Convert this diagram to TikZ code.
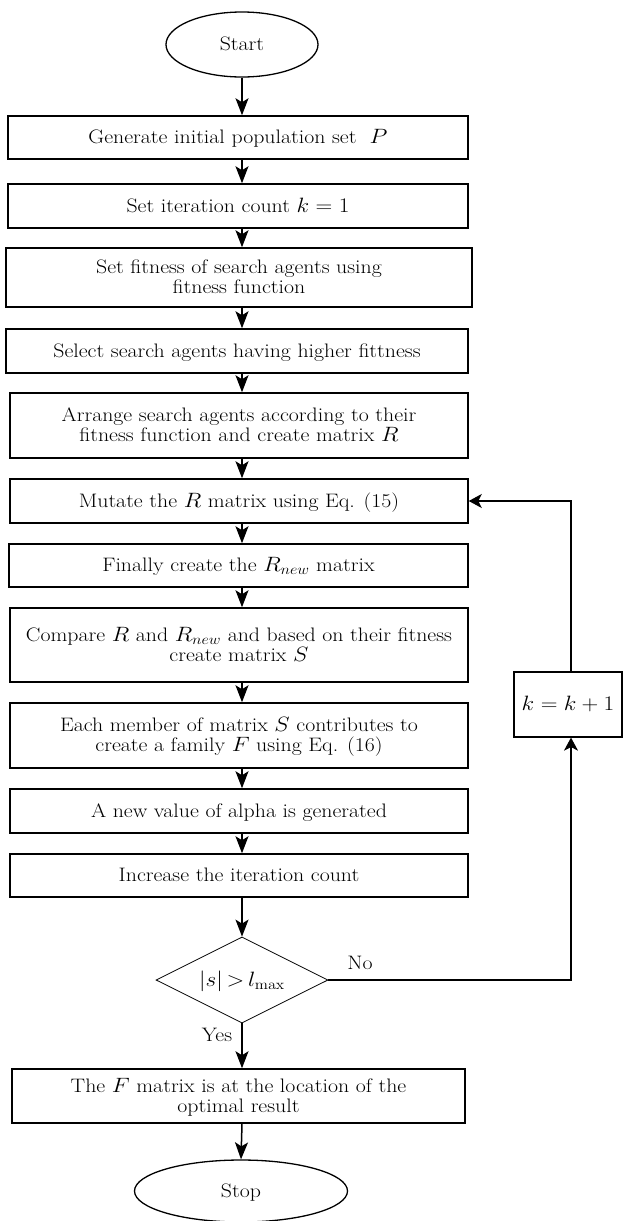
\documentclass[tikz,border=0pt]{standalone}
\usepackage{graphicx}
\usetikzlibrary{shapes.geometric,arrows.meta}
\newcommand{\stretchtxt}[1]{\raisebox{-2pt}[\height][\depth]{\scalebox{1.12}[1]{\begin{tabular}{@{}c@{}}#1\end{tabular}}}}
\begin{document}
\begin{tikzpicture}[x=1pt,y=-1pt,
  every node/.style={font=\fontsize{19.5}{20}\selectfont},
  box/.style={draw,line width=1.5pt,rectangle,align=center,inner sep=0pt,minimum width=460pt},
  term/.style={draw,line width=1.3pt,ellipse,inner sep=0pt},
  decision/.style={draw,line width=0.8pt,diamond,aspect=2,inner sep=0pt,minimum width=172pt,minimum height=86pt},
  flow/.style={line width=1.5pt,-{Stealth[length=17pt,width=13pt,inset=4pt]}},
  back/.style={line width=1.1pt,-{Stealth[length=13pt,width=14pt,inset=3.5pt]}},
  lbl/.style={inner sep=0pt}]
\useasboundingbox (0,0) rectangle (624,1221);
\fill[white] (0,0) rectangle (624,1221);

\node[term,minimum width=152pt,minimum height=65pt] (st) at (242,44.5) {\stretchtxt{Start}};
\node[box,minimum height=43pt] (b1) at (238,137.5) {\stretchtxt{Generate initial population set \ $P$}};
\node[box,minimum height=44pt] (b2) at (238,206) {\stretchtxt{Set iteration count $k=1$}};
\node[box,minimum height=59pt,minimum width=466pt] (b3) at (239,277.5) {\stretchtxt{Set fitness of search agents using\\fitness function}};
\node[box,minimum height=44pt,minimum width=462pt] (b4) at (237,351) {\stretchtxt{Select search agents having higher fittness}};
\node[box,minimum height=65pt,minimum width=458pt] (b5) at (239,425.5) {\stretchtxt{Arrange search agents according to their\\fitness function and create matrix $R$}};
\node[box,minimum height=44pt,minimum width=458pt] (b6) at (239,501) {\stretchtxt{Mutate the $R$ matrix using Eq. (15)}};
\node[box,minimum height=43pt,minimum width=459pt] (b7) at (238.5,565.5) {\stretchtxt{Finally create the $R_{new}$ matrix}};
\node[box,minimum height=74pt,minimum width=458pt] (b8) at (239,645) {\stretchtxt{Compare $R$ and $R_{new}$ and based on their fitness\\create matrix $S$}};
\node[box,minimum height=65pt,minimum width=458pt] (b9) at (239,735.5) {\stretchtxt{Each member of matrix $S$ contributes to\\create a family $F$ using Eq. (16)}};
\node[box,minimum height=44pt,minimum width=458pt] (b10) at (239,811) {\stretchtxt{A new value of alpha is generated}};
\node[box,minimum height=43pt,minimum width=458pt] (b11) at (239,875.5) {\stretchtxt{Increase the iteration count}};
\node[decision] (dia) at (242,980) {\stretchtxt{$|s|\,{>}\,l_{\max}$}};
\node[box,minimum height=54pt,minimum width=453pt] (fin) at (238.5,1096) {\stretchtxt{The $F$ matrix is at the location of the\\optimal result}};
\node[term,minimum width=213pt,minimum height=62pt] (sp) at (241,1191) {\stretchtxt{Stop}};
\node[draw,line width=1.2pt,rectangle,inner sep=0pt,minimum width=108pt,minimum height=65pt] (kb) at (568,704.5) {\stretchtxt{$k=k+1$}};
\node[lbl] (no) at (360,963) {\stretchtxt{No}};
\node[lbl] (yes) at (217,1035) {\stretchtxt{Yes}};
\coordinate (lx) at (571,0);

\draw[flow] (st.south) -- (b1.north -| st);
\draw[flow] (b1.south -| st) -- (b2.north -| st);
\draw[flow] (b2.south -| st) -- (b3.north -| st);
\draw[flow] (b3.south -| st) -- (b4.north -| st);
\draw[flow] (b4.south -| st) -- (b5.north -| st);
\draw[flow] (b5.south -| st) -- (b6.north -| st);
\draw[flow] (b6.south -| st) -- (b7.north -| st);
\draw[flow] (b7.south -| st) -- (b8.north -| st);
\draw[flow] (b8.south -| st) -- (b9.north -| st);
\draw[flow] (b9.south -| st) -- (b10.north -| st);
\draw[flow] (b10.south -| st) -- (b11.north -| st);
\draw[flow] (b11.south -| st) -- (dia.north);
\draw[flow] (dia.south) -- (fin.north -| st);
\draw[flow] (fin.south -| st) -- (sp.north);
\draw[back] (dia.east) -- (dia.east -| lx) -- (kb.south -| lx);
\draw[back] (kb.north -| lx) |- (b6.east);
\end{tikzpicture}
\end{document}
